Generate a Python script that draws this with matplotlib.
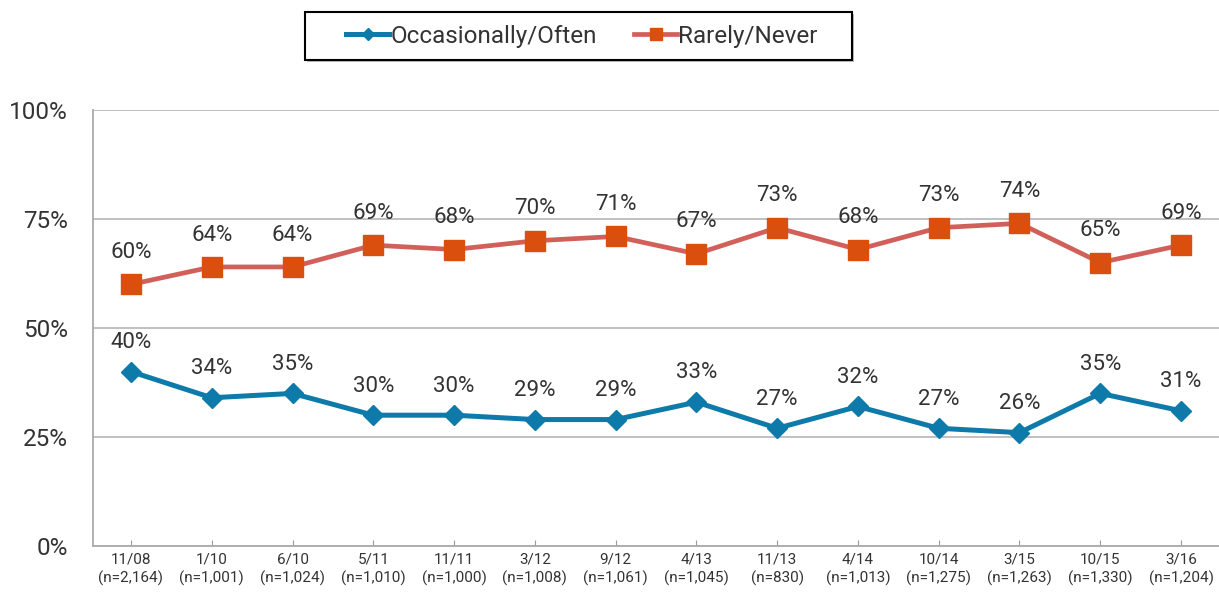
import matplotlib.pyplot as plt
from matplotlib.patches import Rectangle

plt.rcParams['font.family'] = ['Roboto', 'DejaVu Sans']

dates = ["11/08", "1/10", "6/10", "5/11", "11/11", "3/12", "9/12",
         "4/13", "11/13", "4/14", "10/14", "3/15", "10/15", "3/16"]
sizes = ["2,164", "1,001", "1,024", "1,010", "1,000", "1,008", "1,061",
         "1,045", "830", "1,013", "1,275", "1,263", "1,330", "1,204"]
often = [40, 34, 35, 30, 30, 29, 29, 33, 27, 32, 27, 26, 35, 31]
rarely = [60, 64, 64, 69, 68, 70, 71, 67, 73, 68, 73, 74, 65, 69]

text_col = '#333333'
blue = '#0E7AAA'
red_line = '#D2605A'
red_mark = '#DB4F0E'

fig = plt.figure(figsize=(12.19, 5.93), dpi=100)
ax = fig.add_axes([93 / 1219, 47 / 593, 1 - 93 / 1219, 436 / 593])

x = list(range(len(dates)))
ax.plot(x, often, color=blue, lw=3.6, marker='D', ms=10.5,
        mfc=blue, mec=blue, label='Occasionally/Often', zorder=3)
ax.plot(x, rarely, color=red_line, lw=3.4, marker='s', ms=14,
        mfc=red_mark, mec=red_mark, label='Rarely/Never', zorder=3)

for xi, v in zip(x, often):
    ax.annotate(f'{v}%', (xi, v), xytext=(0, 21), textcoords='offset points',
                ha='center', va='center', fontsize=16, color=text_col)
for xi, v in zip(x, rarely):
    ax.annotate(f'{v}%', (xi, v), xytext=(0, 23), textcoords='offset points',
                ha='center', va='center', fontsize=16, color=text_col)

ax.set_xlim(-0.47, 13.47)
ax.set_ylim(0, 100)
ax.set_yticks([0, 25, 50, 75, 100])
ax.set_yticklabels(['0%', '25%', '50%', '75%', '100%'])
ax.set_xticks(x)
ax.set_xticklabels([f'{d}\n(n={n})' for d, n in zip(dates, sizes)],
                   fontsize=11, color=text_col, linespacing=1.3)
ax.tick_params(axis='y', length=0, pad=18, labelsize=17.5, labelcolor=text_col)
ax.tick_params(axis='x', direction='in', length=4, color='#999999', pad=5)

ax.grid(axis='y', color='#BBBBBB', lw=1.3)
ax.set_axisbelow(True)
for s in ['top', 'right']:
    ax.spines[s].set_visible(False)
for s in ['left', 'bottom']:
    ax.spines[s].set_color('#AAAAAA')
    ax.spines[s].set_linewidth(1.3)

# legend box
fig.patches.append(Rectangle((307 / 1219, 531 / 593), 547 / 1219, 48 / 593,
                             transform=fig.transFigure, fc='#BBBBBB', ec='none', zorder=0))
fig.patches.append(Rectangle((305 / 1219, 533 / 593), 547 / 1219, 48 / 593,
                             transform=fig.transFigure, fc='white', ec='black', lw=1.5, zorder=1))
fig.legend(loc='center', bbox_to_anchor=(582 / 1219, 1 - 36 / 593), ncol=2,
           frameon=False, fontsize=17.5, handlelength=1.75, handletextpad=0.05,
           columnspacing=1.55, markerscale=0.6, labelcolor=text_col)

fig.savefig('out.png', dpi=100)
